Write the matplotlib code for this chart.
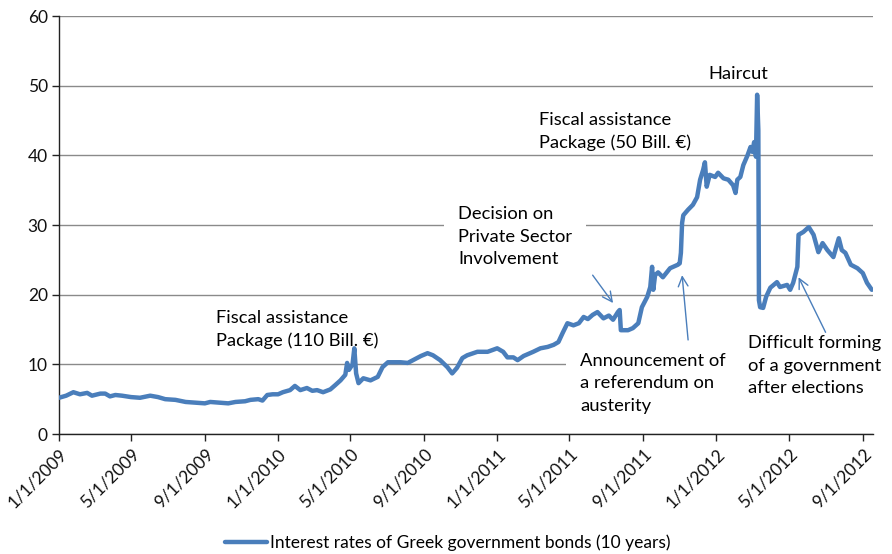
import matplotlib
matplotlib.use("Agg")
import matplotlib.pyplot as plt
import matplotlib.dates as mdates
import pandas as pd

# 10-year Greek government bond yields (%)
dates = [
    "2009-01-01", "2009-01-13", "2009-01-25", "2009-02-05", "2009-02-17", "2009-02-25",
    "2009-03-11", "2009-03-19", "2009-03-27", "2009-04-05", "2009-04-16", "2009-05-01",
    "2009-05-16", "2009-06-02", "2009-06-15", "2009-06-27", "2009-07-14", "2009-07-31",
    "2009-08-17", "2009-09-01", "2009-09-10", "2009-09-26", "2009-10-10", "2009-10-22",
    "2009-11-07", "2009-11-16", "2009-11-29", "2009-12-06", "2009-12-14", "2009-12-23",
    "2010-01-01", "2010-01-09", "2010-01-21", "2010-01-29", "2010-02-07", "2010-02-18",
    "2010-02-27", "2010-03-07", "2010-03-17", "2010-03-29", "2010-04-06", "2010-04-15",
    "2010-04-23", "2010-04-26", "2010-04-29", "2010-05-05", "2010-05-08", "2010-05-11",
    "2010-05-15", "2010-05-23", "2010-06-04", "2010-06-16", "2010-06-24", "2010-07-03",
    "2010-07-24", "2010-08-05", "2010-08-27", "2010-09-07", "2010-09-16", "2010-09-28",
    "2010-10-10", "2010-10-18", "2010-10-26", "2010-11-04", "2010-11-12", "2010-11-29",
    "2010-12-16", "2011-01-01", "2011-01-11", "2011-01-18", "2011-01-28", "2011-02-04",
    "2011-02-14", "2011-03-02", "2011-03-14", "2011-03-26", "2011-04-05", "2011-04-13",
    "2011-04-20", "2011-04-28", "2011-05-08", "2011-05-17", "2011-05-25", "2011-06-01",
    "2011-06-09", "2011-06-17", "2011-06-27", "2011-07-06", "2011-07-13", "2011-07-21",
    "2011-07-24", "2011-07-26", "2011-08-07", "2011-08-15", "2011-08-24", "2011-08-30",
    "2011-09-08", "2011-09-13", "2011-09-16", "2011-09-18", "2011-09-21", "2011-09-26",
    "2011-10-04", "2011-10-16", "2011-10-29", "2011-11-01", "2011-11-03", "2011-11-05",
    "2011-11-07", "2011-11-15", "2011-11-23", "2011-11-30", "2011-12-05", "2011-12-10",
    "2011-12-13", "2011-12-16", "2011-12-21", "2011-12-30", "2012-01-04", "2012-01-13",
    "2012-01-21", "2012-01-29", "2012-02-02", "2012-02-05", "2012-02-10", "2012-02-15",
    "2012-02-22", "2012-02-27", "2012-03-01", "2012-03-04", "2012-03-07", "2012-03-09",
    "2012-03-11", "2012-03-12", "2012-03-14", "2012-03-19", "2012-03-24", "2012-03-31",
    "2012-04-11", "2012-04-16", "2012-04-28", "2012-05-03", "2012-05-08", "2012-05-15",
    "2012-05-17", "2012-05-25", "2012-06-03", "2012-06-11", "2012-06-19", "2012-06-26",
    "2012-07-04", "2012-07-14", "2012-07-23", "2012-07-28", "2012-08-03", "2012-08-12",
    "2012-08-23", "2012-09-01", "2012-09-08", "2012-09-16",
]
rates = [
    5.2, 5.5, 6.0, 5.7, 5.9, 5.5,
    5.8, 5.8, 5.4, 5.6, 5.5, 5.3,
    5.2, 5.5, 5.3, 5.0, 4.9, 4.6,
    4.5, 4.4, 4.6, 4.5, 4.4, 4.6,
    4.7, 4.9, 5.0, 4.8, 5.6, 5.7,
    5.7, 6.0, 6.3, 6.9, 6.3, 6.6,
    6.2, 6.3, 6.0, 6.4, 7.0, 7.7,
    8.5, 10.2, 9.2, 10.0, 12.3, 8.7,
    7.3, 8.0, 7.7, 8.2, 9.6, 10.3,
    10.3, 10.2, 11.2, 11.6, 11.3, 10.6,
    9.6, 8.7, 9.5, 10.9, 11.3, 11.8,
    11.8, 12.3, 11.8, 11.0, 11.0, 10.6,
    11.2, 11.8, 12.3, 12.5, 12.8, 13.2,
    14.5, 15.9, 15.6, 15.9, 16.8, 16.5,
    17.1, 17.5, 16.6, 17.0, 16.4, 17.5,
    17.8, 14.9, 14.9, 15.2, 15.9, 18.2,
    19.7, 21.1, 24.0, 20.7, 22.8, 23.2,
    22.5, 23.8, 24.3, 24.5, 26.0, 30.3,
    31.4, 32.2, 32.9, 34.0, 36.5, 37.9,
    39.0, 35.5, 37.2, 36.9, 37.5, 36.7,
    36.5, 35.7, 34.6, 36.5, 36.9, 38.6,
    40.0, 41.2, 40.5, 41.9, 39.8, 48.7,
    43.6, 19.2, 18.2, 18.1, 19.7, 21.0,
    21.8, 21.1, 21.4, 20.7, 21.7, 24.0,
    28.6, 29.0, 29.7, 28.6, 26.1, 27.4,
    26.4, 25.4, 28.1, 26.4, 26.0, 24.3,
    23.8, 23.1, 21.7, 20.7,
]

blue = "#4A7EBB"
plt.rcParams["font.family"] = ["Lato", "DejaVu Sans"]

df = pd.DataFrame({"date": pd.to_datetime(dates), "rate": rates})

fig = plt.figure(figsize=(8.92, 5.54), dpi=100)
ax = fig.add_axes([0.0661, 0.2166, 0.9126, 0.7545])

ax.plot(df["date"], df["rate"], color=blue, lw=3.2, zorder=3,
        solid_joinstyle="round", solid_capstyle="round",
        label="Interest rates of Greek government bonds (10 years)")

ax.set_ylim(0, 60)
ax.set_yticks(range(0, 61, 10))
ax.set_xlim(pd.Timestamp("2009-01-01"), pd.Timestamp("2012-09-18"))
ax.xaxis.set_major_locator(mdates.MonthLocator(bymonth=[1, 5, 9]))
ax.xaxis.set_major_formatter(mdates.DateFormatter("%-m/%-d/%Y"))

ax.grid(axis="y", color="#8a8a8a", lw=1.0)
ax.set_axisbelow(True)
for s in ["top", "right"]:
    ax.spines[s].set_visible(False)
for s in ["left", "bottom"]:
    ax.spines[s].set_color("#222222")
    ax.spines[s].set_linewidth(1.0)
ax.tick_params(axis="both", direction="out", length=5, width=1,
               color="#222222", labelsize=12.5, labelcolor="#111111")
ax.tick_params(axis="y", pad=3)
for lbl in ax.get_xticklabels():
    lbl.set_rotation(45)
    lbl.set_ha("right")
    lbl.set_va("top")
    lbl.set_rotation_mode("anchor")

# event annotations
tsize = 13.2
ls = 1.5
box = dict(boxstyle="square,pad=0.75", fc="white", ec="none")
ax.text(pd.Timestamp("2009-09-19"), 15.0, "Fiscal assistance\nPackage (110 Bill. €)",
        fontsize=tsize, ha="left", va="center", linespacing=ls, zorder=2)
ax.text(pd.Timestamp("2010-10-28"), 28.3, "Decision on\nPrivate Sector\nInvolvement",
        fontsize=tsize, ha="left", va="center", linespacing=ls, zorder=2, bbox=box)
ax.text(pd.Timestamp("2011-03-12"), 43.4, "Fiscal assistance\nPackage (50 Bill. €)",
        fontsize=tsize, ha="left", va="center", linespacing=ls, zorder=2)
ax.text(pd.Timestamp("2011-12-19"), 51.7, "Haircut",
        fontsize=tsize, ha="left", va="center", zorder=2)
ax.text(pd.Timestamp("2011-05-19"), 7.3, "Announcement of\na referendum on\nausterity",
        fontsize=tsize, ha="left", va="center", linespacing=ls, zorder=2, bbox=box)
ax.text(pd.Timestamp("2012-02-23"), 9.8, "Difficult forming\nof a government\nafter elections",
        fontsize=tsize, ha="left", va="center", linespacing=ls, zorder=2, bbox=box)

arrow = dict(arrowstyle="->,head_length=0.7,head_width=0.35", color=blue, lw=1.0,
             shrinkA=0, shrinkB=0)
ax.annotate("", xy=(pd.Timestamp("2011-07-13"), 18.8),
            xytext=(pd.Timestamp("2011-06-09"), 22.8), arrowprops=arrow, zorder=4)
ax.annotate("", xy=(pd.Timestamp("2011-11-05"), 22.8),
            xytext=(pd.Timestamp("2011-11-15"), 13.5), arrowprops=arrow, zorder=4)
ax.annotate("", xy=(pd.Timestamp("2012-05-17"), 22.5),
            xytext=(pd.Timestamp("2012-07-01"), 14.6), arrowprops=arrow, zorder=4)

fig.legend(loc="center", bbox_to_anchor=(0.502, 1 - 543 / 554), frameon=False,
           fontsize=12.5, handlelength=2.4, handletextpad=0.2)

fig.savefig("out.png", dpi=100)
